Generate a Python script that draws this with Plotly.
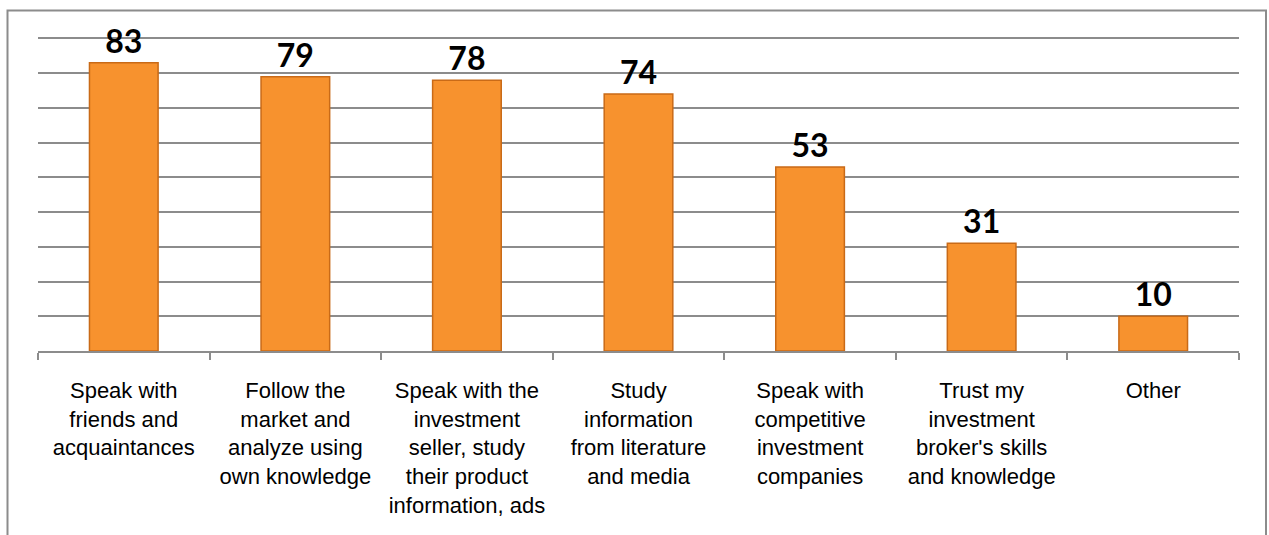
import plotly.graph_objects as go

# Survey answers: how respondents choose an investment
categories = [
    "Speak with<br>friends and<br>acquaintances",
    "Follow the<br>market and<br>analyze using<br>own knowledge",
    "Speak with the<br>investment<br>seller, study<br>their product<br>information, ads",
    "Study<br>information<br>from literature<br>and media",
    "Speak with<br>competitive<br>investment<br>companies",
    "Trust my<br>investment<br>broker's skills<br>and knowledge",
    "Other",
]
values = [83, 79, 78, 74, 53, 31, 10]
y_ticks = [0, 10, 20, 30, 40, 50, 60, 70, 80, 90]

W, H = 1269, 535
M_L, M_R, M_T, M_B = 38, 30, 35, 184
plot_w = W - M_L - M_R
plot_h = H - M_T - M_B


def px_to_paper_x(px):
    return (px - M_L) / plot_w


def px_to_paper_y(py):
    return (H - M_B - py) / plot_h


fig = go.Figure()
fig.add_trace(go.Bar(
    x=categories,
    y=values,
    text=[str(v) for v in values],
    textposition="outside",
    cliponaxis=False,
    textfont=dict(family="Lato", size=32, color="#000000", weight="bold"),
    marker=dict(color="#F7922E", line=dict(color="#C96A17", width=1.5)),
    hoverinfo="skip",
))

# outer chart frame (open at the bottom edge of the page)
fig.add_shape(
    type="rect", xref="paper", yref="paper",
    x0=px_to_paper_x(7.5), x1=px_to_paper_x(1266),
    y0=px_to_paper_y(600), y1=px_to_paper_y(10.5),
    line=dict(color="#8C8C8C", width=2), fillcolor="rgba(0,0,0,0)",
    layer="below",
)

fig.update_layout(
    width=W, height=H,
    margin=dict(l=M_L, r=M_R, t=M_T, b=M_B),
    paper_bgcolor="white", plot_bgcolor="white",
    bargap=0.6,
    showlegend=False,
    xaxis=dict(
        type="category",
        showline=True, linecolor="#8C8C8C", linewidth=1.5,
        ticks="outside", tickson="boundaries", ticklen=7,
        tickcolor="#8C8C8C", tickwidth=1.5,
        showgrid=False,
        ticklabelstandoff=19,
        tickfont=dict(family="Liberation Sans, Arial", size=22, color="#000000"),
    ),
    yaxis=dict(
        range=[0, 91],
        tickvals=y_ticks,
        showticklabels=False,
        showgrid=True, gridcolor="#8C8C8C", gridwidth=1.5,
        zeroline=False, showline=False,
    ),
)

fig.write_html("out.html")
